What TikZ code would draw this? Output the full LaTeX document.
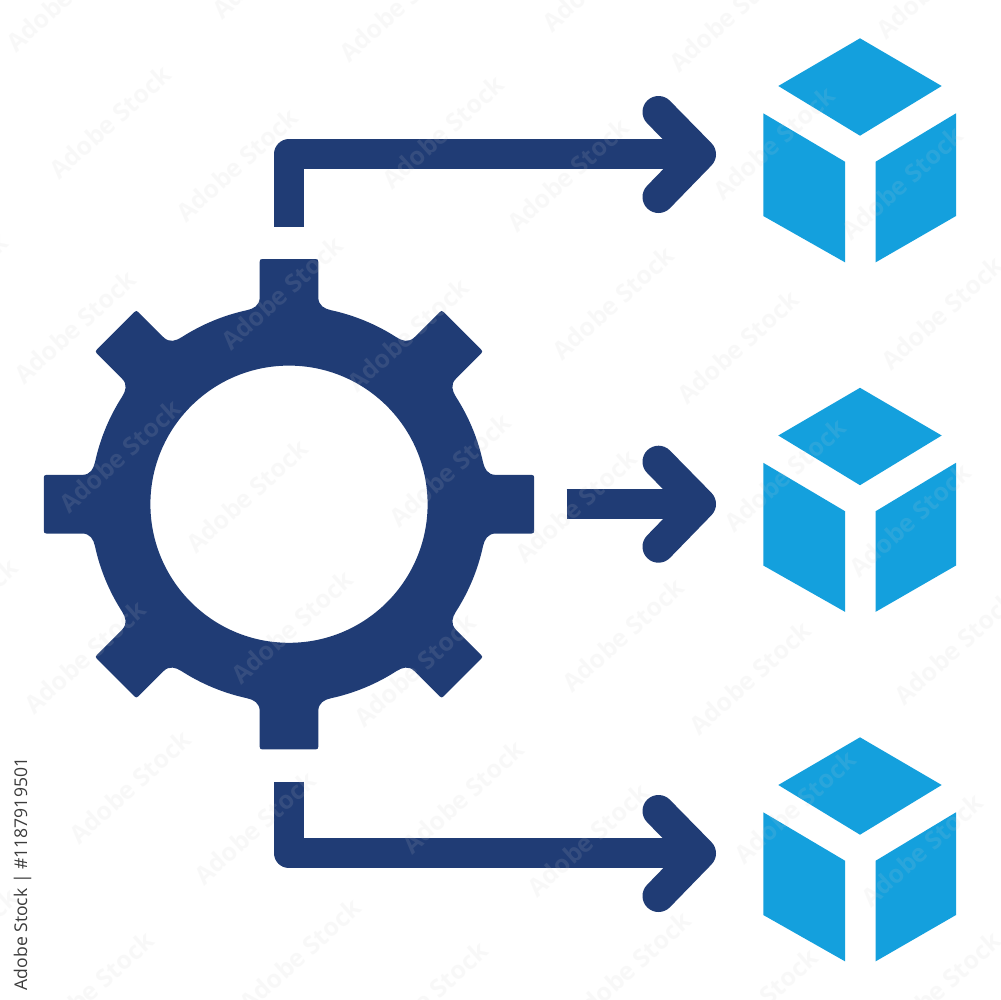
\documentclass[tikz,border=0pt]{standalone}
\usepackage{fontspec}
\setmainfont{Open Sans}
\definecolor{navy}{RGB}{32,60,117}
\definecolor{sky}{RGB}{20,160,221}
\definecolor{markgray}{RGB}{205,205,205}
\definecolor{idgray}{RGB}{60,60,60}
\tikzset{
  link/.style={draw=navy,line width=3mm,line join=round},
  chevron/.style={draw=navy,line width=3.2mm,line join=round,line cap=round},
  face/.style={fill=sky},
  watermark/.style={text=markgray,text opacity=0.12,rotate=42,inner sep=0pt,font=\fontsize{7.1}{8}\selectfont\bfseries},
  cubeicon/.pic={
    \fill[face] (860,38.3) -- (941.7,86) -- (860,135.7) -- (778.3,86) -- cycle;
    \fill[face] (763.3,113.3) -- (845,161.7) -- (845,262.3) -- (763.3,216) -- cycle;
    \fill[face] (956,113.3) -- (875.7,161.7) -- (875.7,262.3) -- (956,216) -- cycle;
  }
}
\begin{document}
\begin{tikzpicture}[x=0.1mm,y=-0.1mm]
\useasboundingbox (0,0) rectangle (1000,1000);
\fill[white] (0,0) rectangle (1000,1000);
% gear
\begin{scope}[shift={(289,504.2)}]
\fill[navy,even odd rule]
  (-42,-194)
  \foreach \a [evaluate=\a as \s using \a-77.8, evaluate=\a as \e using \a-57.2] in {0,45,...,315} {
    .. controls ([rotate=-\a]-35.5,-195.5) and ([rotate=-\a]-29.3,-198.5) .. ([rotate=-\a]-29.3,-207)
    -- ([rotate=-\a]-29.3,-242.5)
    .. controls ([rotate=-\a]-29.3,-244.5) and ([rotate=-\a]-28.5,-245.2) .. ([rotate=-\a]-26.5,-245.2)
    -- ([rotate=-\a]26.5,-245.2)
    .. controls ([rotate=-\a]28.5,-245.2) and ([rotate=-\a]29.3,-244.5) .. ([rotate=-\a]29.3,-242.5)
    -- ([rotate=-\a]29.3,-207)
    .. controls ([rotate=-\a]29.3,-198.5) and ([rotate=-\a]35.5,-195.5) .. ([rotate=-\a]42,-194)
    arc[start angle=\s,end angle=\e,radius=198.5]
  } -- cycle
  (0,0) circle[radius=138.6];
\end{scope}
% anchors
\coordinate (gearTop) at (289,226.7);
\coordinate (gearRight) at (566.7,504);
\coordinate (gearBottom) at (289,781.7);
\coordinate (bendTop) at (289,154.3);
\coordinate (bendBottom) at (289,853.3);
\coordinate (tipTop) at (700,154.3);
\coordinate (tipMid) at (700,504);
\coordinate (tipBottom) at (700,853.3);
% connectors
\draw[link] (gearTop) -- (bendTop) -- (tipTop);
\draw[link] (gearRight) -- (tipMid);
\draw[link] (gearBottom) -- (bendBottom) -- (tipBottom);
\foreach \t in {tipTop,tipMid,tipBottom}
  \draw[chevron] ([shift={(-41.5,-42.3)}]\t) -- (\t) -- ([shift={(-41.5,42.7)}]\t);
% cubes
\pic at (0,0) {cubeicon};
\pic at (0,349.5) {cubeicon};
\pic at (0,699) {cubeicon};
% faint repeated mark
\foreach \px/\py [count=\n] in {
  67/-5,110/122,237/165,75/327,400/5,443/132,282/293,408/335,120/456,247/496,450/470,273/-38,
  603/-25,730/15,937/-18,568/175,774/143,902/183,613/303,738/347,942/313,576/506,785/475,910/520,
  -53/290,-43/615,85/657,292/627,415/670,130/787,255/828,463/797,-43/945,93/988,300/955,427/998,
  623/635,750/678,955/648,588/840,795/807,922/850,630/968,757/1005,940/988}
  \node[watermark] (mark\n) at (\px,\py) {Adobe Stock};
% vertical credit line
\node[rotate=90,inner sep=0pt,text=idgray,font=\fontsize{5}{6}\selectfont] (credit) at (22.5,874) {Adobe Stock | \#1187919501};
\end{tikzpicture}
\end{document}
